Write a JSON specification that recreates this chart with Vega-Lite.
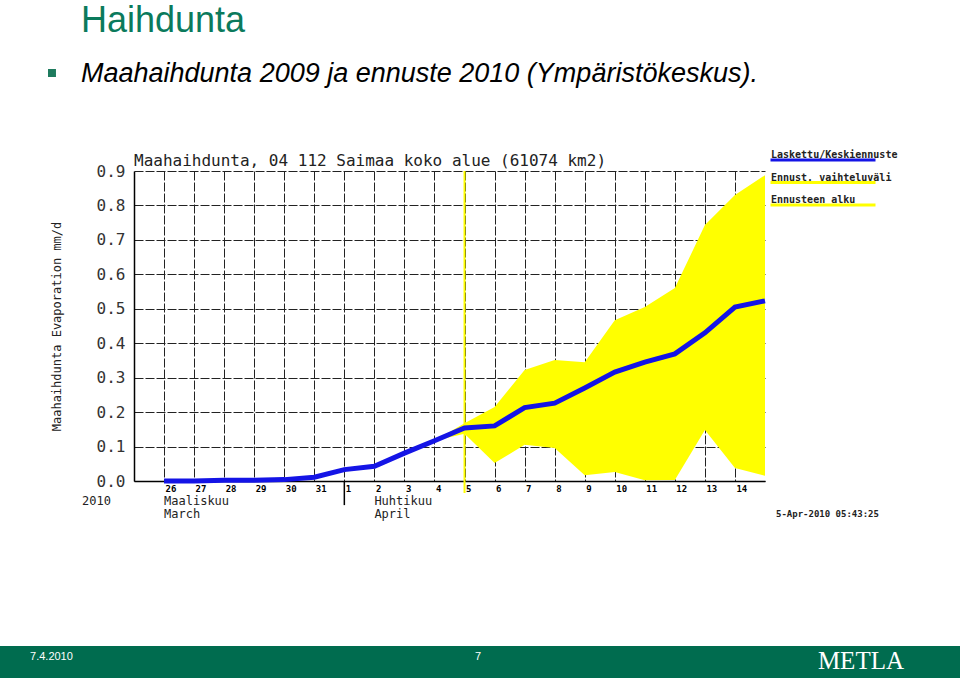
{
  "$schema": "https://vega.github.io/schema/vega-lite/v6.json",
  "width": 631,
  "height": 310,
  "autosize": {"type": "none"},
  "padding": {"left": 134, "top": 171, "right": 195, "bottom": 198},
  "background": "white",
  "data": {"values": [{}]},
  "title": {
    "text": "Haihdunta",
    "subtitle": " Maahaihdunta 2009 ja ennuste 2010  (Ympäristökeskus).",
    "anchor": "start",
    "frame": "group",
    "dx": -53,
    "offset": -19,
    "font": "Liberation Sans",
    "fontSize": 36,
    "fontWeight": "normal",
    "color": "#0b7a5c",
    "subtitleFont": "Liberation Sans",
    "subtitleFontSize": 27,
    "subtitleFontStyle": "italic",
    "subtitleColor": "#000000",
    "subtitlePadding": 21
  },
  "config": {
    "view": {"stroke": null},
    "axis": {"zindex": 1},
    "axisX": {
      "labelAlign": "left",
      "labelBaseline": "top",
      "labelOffset": 1,
      "labelPadding": 3,
      "labelFont": "DejaVu Sans Mono",
      "labelFontSize": 9,
      "labelFontWeight": "bold",
      "labelColor": "#000000",
      "labelOverlap": false,
      "labelFlush": false,
      "ticks": false,
      "domainColor": "#000000",
      "domainWidth": 1.5,
      "grid": true,
      "gridColor": "#222222",
      "gridWidth": 1,
      "gridDash": [9, 2],
      "gridOpacity": 1
    },
    "axisY": {
      "labelFont": "DejaVu Sans Mono",
      "labelFontSize": 16,
      "labelColor": "#333333",
      "labelPadding": 9,
      "labelOverlap": false,
      "labelFlush": false,
      "ticks": false,
      "domainColor": "#000000",
      "domainWidth": 1.5,
      "grid": true,
      "gridColor": "#222222",
      "gridWidth": 1,
      "gridDash": [9, 2],
      "gridOpacity": 1,
      "titleFont": "DejaVu Sans Mono",
      "titleFontSize": 12,
      "titleFontWeight": "normal",
      "titleColor": "#222222",
      "titlePadding": 33
    }
  },
  "datasets": {
    "laskettu": [
      {"day": 1, "value": 0.0}, {"day": 2, "value": 0.0}, {"day": 3, "value": 0.002},
      {"day": 4, "value": 0.002}, {"day": 5, "value": 0.004}, {"day": 6, "value": 0.011},
      {"day": 7, "value": 0.033}, {"day": 8, "value": 0.043}, {"day": 9, "value": 0.081},
      {"day": 10, "value": 0.117}, {"day": 11, "value": 0.154}, {"day": 12, "value": 0.16},
      {"day": 13, "value": 0.213}, {"day": 14, "value": 0.226}, {"day": 15, "value": 0.27},
      {"day": 16, "value": 0.316}, {"day": 17, "value": 0.345}, {"day": 18, "value": 0.369},
      {"day": 19, "value": 0.43}, {"day": 20, "value": 0.505}, {"day": 21, "value": 0.523}
    ],
    "band": [
      {"day": 10, "lo": 0.117, "hi": 0.117}, {"day": 11, "lo": 0.137, "hi": 0.168},
      {"day": 12, "lo": 0.052, "hi": 0.215}, {"day": 13, "lo": 0.105, "hi": 0.322},
      {"day": 14, "lo": 0.096, "hi": 0.351}, {"day": 15, "lo": 0.017, "hi": 0.345},
      {"day": 16, "lo": 0.026, "hi": 0.467}, {"day": 17, "lo": 0.002, "hi": 0.505},
      {"day": 18, "lo": 0.003, "hi": 0.56}, {"day": 19, "lo": 0.148, "hi": 0.743},
      {"day": 20, "lo": 0.038, "hi": 0.83}, {"day": 21, "lo": 0.015, "hi": 0.888}
    ],
    "months": [
      {"day": 1, "label": "Maaliskuu\nMarch"},
      {"day": 8, "label": "Huhtikuu\nApril"}
    ]
  },
  "layer": [
    {
      "mark": {"type": "rect", "color": "#006c4f"},
      "encoding": {
        "x": {"datum": -4.6, "type": "quantitative"},
        "x2": {"datum": 27.6},
        "y": {"datum": -0.479, "type": "quantitative"},
        "y2": {"datum": -0.572}
      }
    },
    {
      "mark": {"type": "point", "shape": "square", "filled": true, "size": 64, "color": "#1e7b5e", "opacity": 1},
      "encoding": {
        "x": {"datum": -2.73, "type": "quantitative"},
        "y": {"datum": 1.1845, "type": "quantitative"}
      }
    },
    {
      "data": {"name": "band"},
      "mark": {"type": "area", "opacity": 1},
      "encoding": {
        "x": {
          "field": "day", "type": "quantitative",
          "scale": {"domain": [0, 21], "nice": false, "zero": false},
          "axis": {
            "title": null,
            "values": [1, 2, 3, 4, 5, 6, 7, 8, 9, 10, 11, 12, 13, 14, 15, 16, 17, 18, 19, 20],
            "tickCount": 40,
            "labelExpr": "datum.value <= 6 ? datum.value + 25 : datum.value - 6"
          }
        },
        "y": {
          "field": "lo", "type": "quantitative",
          "scale": {"domain": [0, 0.9], "nice": false},
          "axis": {
            "title": "Maahaihdunta Evaporation mm/d",
            "values": [0, 0.1, 0.2, 0.3, 0.4, 0.5, 0.6, 0.7, 0.8, 0.9],
            "tickCount": 40,
            "format": ".1f"
          }
        },
        "y2": {"field": "hi"},
        "color": {"datum": "Ennust. vaihteluväli"}
      }
    },
    {
      "mark": {"type": "rule", "strokeWidth": 2},
      "encoding": {
        "x": {"datum": 11, "type": "quantitative"},
        "y": {"datum": 0.9, "type": "quantitative"},
        "y2": {"datum": -0.035},
        "color": {"datum": "Ennusteen alku"}
      }
    },
    {
      "mark": {"type": "rule", "strokeWidth": 1.5, "color": "#000000"},
      "encoding": {
        "x": {"datum": 7, "type": "quantitative"},
        "y": {"datum": 0, "type": "quantitative"},
        "y2": {"datum": -0.07}
      }
    },
    {
      "data": {"name": "laskettu"},
      "mark": {"type": "line", "strokeWidth": 5},
      "encoding": {
        "x": {
          "field": "day", "type": "quantitative",
          "axis": {
            "title": null,
            "values": [1, 2, 3, 4, 5, 6, 7, 8, 9, 10, 11, 12, 13, 14, 15, 16, 17, 18, 19, 20],
            "tickCount": 40,
            "labelExpr": "datum.value <= 6 ? datum.value + 25 : datum.value - 6"
          }
        },
        "y": {
          "field": "value", "type": "quantitative",
          "axis": {
            "title": "Maahaihdunta Evaporation mm/d",
            "values": [0, 0.1, 0.2, 0.3, 0.4, 0.5, 0.6, 0.7, 0.8, 0.9],
            "tickCount": 40,
            "format": ".1f"
          }
        },
        "color": {
          "datum": "Laskettu/Keskiennuste",
          "scale": {
            "domain": ["Laskettu/Keskiennuste", "Ennust. vaihteluväli", "Ennusteen alku"],
            "range": ["#1414e6", "#ffff00", "#ffff00"]
          },
          "legend": {
            "title": null,
            "orient": "none",
            "legendX": 635,
            "legendY": -21,
            "symbolType": "stroke",
            "symbolSize": 11025,
            "symbolStrokeWidth": 3,
            "clipHeight": 20,
            "labelOffset": -106,
            "labelBaseline": "bottom",
            "labelFont": "DejaVu Sans Mono",
            "labelFontSize": 10,
            "labelFontWeight": "bold",
            "labelColor": "#222222",
            "labelLimit": 0,
            "rowPadding": 2.5,
            "encode": {
              "symbols": {
                "update": {
                  "stroke": {"scale": "color", "field": "value"},
                  "fill": {"value": "transparent"},
                  "opacity": {"value": 1}
                }
              }
            }
          }
        }
      }
    },
    {
      "mark": {"type": "text", "align": "left", "baseline": "alphabetic", "dy": -5, "font": "DejaVu Sans Mono", "fontSize": 16, "color": "#222222", "text": "Maahaihdunta, 04 112 Saimaa koko alue (61074 km2)"},
      "encoding": {
        "x": {"datum": 0, "type": "quantitative"},
        "y": {"datum": 0.9, "type": "quantitative"}
      }
    },
    {
      "mark": {"type": "text", "align": "left", "baseline": "top", "dx": -52, "dy": 15, "font": "DejaVu Sans Mono", "fontSize": 12, "color": "#222222", "text": "2010"},
      "encoding": {
        "x": {"datum": 0, "type": "quantitative"},
        "y": {"datum": 0, "type": "quantitative"}
      }
    },
    {
      "data": {"name": "months"},
      "mark": {"type": "text", "align": "left", "baseline": "top", "dy": 15, "lineBreak": "\n", "lineHeight": 13, "font": "DejaVu Sans Mono", "fontSize": 12, "color": "#222222"},
      "encoding": {
        "x": {"field": "day", "type": "quantitative"},
        "y": {"datum": 0, "type": "quantitative"},
        "text": {"field": "label"}
      }
    },
    {
      "mark": {"type": "text", "align": "left", "baseline": "middle", "dx": 11, "dy": 33, "font": "DejaVu Sans Mono", "fontSize": 9, "fontWeight": "bold", "color": "#222222", "text": "5-Apr-2010 05:43:25"},
      "encoding": {
        "x": {"datum": 21, "type": "quantitative"},
        "y": {"datum": 0, "type": "quantitative"}
      }
    },
    {
      "mark": {"type": "text", "align": "left", "baseline": "middle", "font": "Liberation Sans", "fontSize": 11, "color": "#ffffff", "text": "7.4.2010"},
      "encoding": {
        "x": {"datum": -3.46, "type": "quantitative"},
        "y": {"datum": -0.511, "type": "quantitative"}
      }
    },
    {
      "mark": {"type": "text", "align": "center", "baseline": "middle", "font": "Liberation Sans", "fontSize": 11, "color": "#ffffff", "text": "7"},
      "encoding": {
        "x": {"datum": 11.45, "type": "quantitative"},
        "y": {"datum": -0.511, "type": "quantitative"}
      }
    },
    {
      "mark": {"type": "text", "align": "left", "baseline": "alphabetic", "font": "Liberation Serif", "fontSize": 25, "color": "#ffffff", "text": "METLA"},
      "encoding": {
        "x": {"datum": 22.76, "type": "quantitative"},
        "y": {"datum": -0.546, "type": "quantitative"}
      }
    }
  ]
}
